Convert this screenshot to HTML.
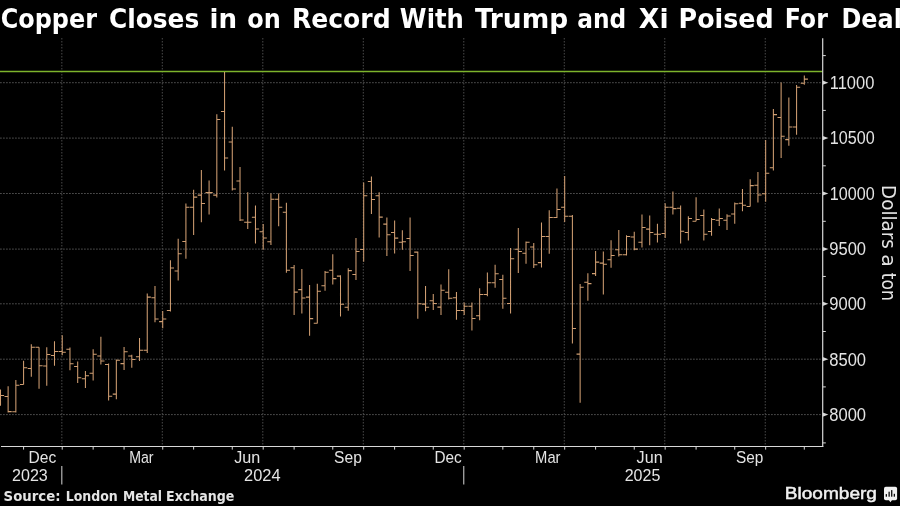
<!DOCTYPE html>
<html><head><meta charset="utf-8"><title>Copper Closes in on Record With Trump and Xi Poised For Deal</title>
<style>
html,body{margin:0;padding:0;background:#000;}
body{width:900px;height:506px;overflow:hidden;position:relative;}
svg{position:absolute;left:0;top:0;}
.ttl{font-family:"DejaVu Sans Condensed","DejaVu Sans",sans-serif;font-stretch:condensed;font-weight:bold;font-size:26.6px;fill:#fff;}
.ax{font-family:"Liberation Sans",Arial,sans-serif;font-size:16.8px;fill:#e4e4e4;}
.ay{font-family:"Liberation Sans",Arial,sans-serif;font-size:17.6px;fill:#e4e4e4;}
.yl{font-family:"DejaVu Sans Condensed","DejaVu Sans",sans-serif;font-stretch:condensed;font-size:19.1px;fill:#e4e4e4;}
.src{font-family:"DejaVu Sans Condensed","DejaVu Sans",sans-serif;font-stretch:condensed;font-weight:bold;font-size:13.4px;fill:#e4e4e4;}
.bb{font-family:"Liberation Sans",Arial,sans-serif;font-size:15.8px;fill:#f0f0f0;stroke:#f0f0f0;stroke-width:0.45px;}
</style></head>
<body>
<svg width="900" height="506" viewBox="0 0 900 506">
<rect width="900" height="506" fill="#000"/>
<text x="0.70" y="27.80" class="ttl" textLength="96.30" lengthAdjust="spacingAndGlyphs">Copper</text>
<text x="108.96" y="27.80" class="ttl" textLength="90.30" lengthAdjust="spacingAndGlyphs">Closes</text>
<text x="209.52" y="27.80" class="ttl" textLength="27.53" lengthAdjust="spacingAndGlyphs">in</text>
<text x="247.30" y="27.80" class="ttl" textLength="33.48" lengthAdjust="spacingAndGlyphs">on</text>
<text x="291.90" y="27.80" class="ttl" textLength="98.72" lengthAdjust="spacingAndGlyphs">Record</text>
<text x="399.89" y="27.80" class="ttl" textLength="63.92" lengthAdjust="spacingAndGlyphs">With</text>
<text x="475.00" y="27.80" class="ttl" textLength="93.15" lengthAdjust="spacingAndGlyphs">Trump</text>
<text x="577.33" y="27.80" class="ttl" textLength="48.95" lengthAdjust="spacingAndGlyphs">and</text>
<text x="638.89" y="27.80" class="ttl" textLength="29.66" lengthAdjust="spacingAndGlyphs">Xi</text>
<text x="678.58" y="27.80" class="ttl" textLength="95.00" lengthAdjust="spacingAndGlyphs">Poised</text>
<text x="784.72" y="27.80" class="ttl" textLength="43.10" lengthAdjust="spacingAndGlyphs">For</text>
<text x="841.50" y="27.80" class="ttl" textLength="60.33" lengthAdjust="spacingAndGlyphs">Deal</text>
<line x1="0" y1="414.60" x2="822" y2="414.60" stroke="#4a4a4a" stroke-width="1" stroke-dasharray="1.8 1.2"/>
<line x1="0" y1="359.20" x2="822" y2="359.20" stroke="#4a4a4a" stroke-width="1" stroke-dasharray="1.8 1.2"/>
<line x1="0" y1="303.80" x2="822" y2="303.80" stroke="#4a4a4a" stroke-width="1" stroke-dasharray="1.8 1.2"/>
<line x1="0" y1="249.10" x2="822" y2="249.10" stroke="#4a4a4a" stroke-width="1" stroke-dasharray="1.8 1.2"/>
<line x1="0" y1="193.50" x2="822" y2="193.50" stroke="#4a4a4a" stroke-width="1" stroke-dasharray="1.8 1.2"/>
<line x1="0" y1="138.10" x2="822" y2="138.10" stroke="#4a4a4a" stroke-width="1" stroke-dasharray="1.8 1.2"/>
<line x1="0" y1="82.70" x2="822" y2="82.70" stroke="#4a4a4a" stroke-width="1" stroke-dasharray="1.8 1.2"/>
<line x1="61.83" y1="38" x2="61.83" y2="446" stroke="#4a4a4a" stroke-width="1" stroke-dasharray="1.5 1.5"/>
<line x1="162.31" y1="38" x2="162.31" y2="446" stroke="#4a4a4a" stroke-width="1" stroke-dasharray="1.5 1.5"/>
<line x1="262.81" y1="38" x2="262.81" y2="446" stroke="#4a4a4a" stroke-width="1" stroke-dasharray="1.5 1.5"/>
<line x1="363.30" y1="38" x2="363.30" y2="446" stroke="#4a4a4a" stroke-width="1" stroke-dasharray="1.5 1.5"/>
<line x1="463.79" y1="38" x2="463.79" y2="446" stroke="#4a4a4a" stroke-width="1" stroke-dasharray="1.5 1.5"/>
<line x1="564.28" y1="38" x2="564.28" y2="446" stroke="#4a4a4a" stroke-width="1" stroke-dasharray="1.5 1.5"/>
<line x1="664.77" y1="38" x2="664.77" y2="446" stroke="#4a4a4a" stroke-width="1" stroke-dasharray="1.5 1.5"/>
<line x1="765.26" y1="38" x2="765.26" y2="446" stroke="#4a4a4a" stroke-width="1" stroke-dasharray="1.5 1.5"/>
<line x1="0" y1="71.55" x2="822.7" y2="71.55" stroke="#7db42c" stroke-width="1.5"/>
<path d="M0.50 389.40V405.80M-3.10 392.00H0.50M0.50 395.50H4.10M8.12 386.20V412.40M4.52 396.40H8.12M8.12 411.60H11.71M15.85 380.00V412.40M12.25 411.70H15.85M15.85 385.20H19.45M23.58 360.80V384.50M19.98 384.40H23.58M23.58 367.70H27.18M31.31 344.30V376.70M27.71 368.40H31.31M31.31 347.20H34.91M39.04 347.20V388.80M35.44 347.20H39.04M39.04 365.70H42.64M46.77 347.20V385.70M43.16 366.00H46.77M46.77 354.50H50.37M54.49 341.30V365.70M50.89 355.50H54.49M54.49 351.40H58.09M62.23 335.30V355.20M58.62 351.40H62.23M62.23 352.30H65.83M69.96 347.50V370.30M66.36 349.30H69.96M69.96 363.80H73.56M77.69 361.50V382.90M74.09 366.40H77.69M77.69 377.80H81.29M85.42 371.10V387.90M81.82 378.70H85.42M85.42 375.70H89.02M93.15 349.30V380.40M89.55 373.30H93.15M93.15 354.30H96.75M100.88 336.70V364.40M97.28 356.00H100.88M100.88 361.00H104.48M108.61 363.60V400.50M105.01 364.40H108.61M108.61 396.30H112.20M116.34 359.40V399.20M112.74 394.10H116.34M116.34 360.20H119.94M124.07 347.10V369.90M120.47 363.60H124.07M124.07 351.80H127.67M131.79 354.80V367.80M128.19 356.00H131.79M131.79 359.40H135.39M139.53 338.00V361.00M135.93 356.80H139.53M139.53 350.20H143.12M147.25 293.60V353.10M143.66 350.30H147.25M147.25 297.10H150.85M154.99 286.00V322.20M151.39 297.80H154.99M154.99 318.90H158.59M162.72 311.10V328.30M159.12 321.60H162.72M162.72 318.90H166.31M170.44 260.30V311.50M166.84 310.40H170.44M170.44 268.00H174.04M178.18 238.70V280.50M174.58 271.00H178.18M178.18 253.70H181.78M185.91 203.50V258.80M182.31 241.40H185.91M185.91 207.20H189.50M193.63 189.80V235.00M190.03 207.20H193.63M193.63 197.10H197.23M201.37 170.10V222.30M197.77 195.10H201.37M201.37 203.50H204.97M209.09 180.60V214.40M205.50 192.60H209.09M209.09 192.60H212.69M216.82 114.20V197.60M213.22 195.10H216.82M216.82 119.40H220.42M224.56 72.00V170.50M220.96 111.50H224.56M224.56 157.90H228.16M232.28 126.80V190.60M228.69 141.90H232.28M232.28 189.00H235.88M240.02 167.10V221.10M236.42 180.90H240.02M240.02 220.00H243.62M247.75 192.30V229.00M244.15 222.30H247.75M247.75 222.30H251.34M255.47 205.50V243.50M251.88 217.30H255.47M255.47 229.00H259.07M263.20 224.00V249.70M259.60 231.70H263.20M263.20 237.90H266.81M270.94 193.40V245.10M267.33 241.80H270.94M270.94 199.30H274.54M278.67 193.40V226.20M275.06 199.30H278.67M278.67 207.20H282.27M286.39 202.70V272.80M282.79 212.30H286.39M286.39 270.20H290.00M294.12 264.90V315.10M290.52 267.70H294.12M294.12 292.10H297.73M301.86 268.90V313.40M298.25 289.60H301.86M301.86 298.00H305.46M309.59 285.00V335.80M305.99 297.10H309.59M309.59 318.60H313.19M317.31 283.70V323.40M313.71 323.20H317.31M317.31 291.20H320.92M325.05 271.10V290.70M321.44 285.70H325.05M325.05 272.30H328.65M332.78 254.30V284.50M329.18 270.20H332.78M332.78 278.60H336.38M340.50 275.30V316.40M336.90 276.10H340.50M340.50 304.20H344.11M348.24 268.20V310.70M344.63 307.20H348.24M348.24 270.60H351.84M355.97 238.10V280.00M352.37 274.40H355.97M355.97 251.40H359.57M363.69 182.60V261.80M360.09 249.40H363.69M363.69 195.70H367.30M371.43 176.40V214.00M367.82 181.50H371.43M371.43 199.40H375.03M379.16 192.20V237.60M375.56 195.70H379.16M379.16 217.10H382.76M386.88 217.40V256.00M383.28 224.10H386.88M386.88 234.70H390.49M394.62 220.40V253.40M391.01 232.50H394.62M394.62 238.10H398.22M402.35 230.20V249.70M398.75 242.30H402.35M402.35 241.70H405.95M410.07 217.40V271.10M406.47 238.40H410.07M410.07 255.50H413.68M417.81 251.40V318.70M414.20 252.10H417.81M417.81 303.80H421.41M425.54 285.90V311.30M421.94 304.10H425.54M425.54 307.30H429.14M433.26 294.00V310.10M429.66 300.70H433.26M433.26 303.40H436.87M441.00 284.40V315.10M437.39 307.10H441.00M441.00 290.30H444.60M448.73 269.30V299.50M445.12 292.30H448.73M448.73 298.30H452.33M456.46 292.00V319.70M452.86 297.80H456.46M456.46 310.40H460.06M464.19 302.40V315.10M460.58 310.40H464.19M464.19 306.20H467.79M471.92 302.40V330.60M468.31 306.20H471.92M471.92 318.50H475.52M479.65 288.30V320.20M476.05 315.80H479.65M479.65 294.50H483.25M487.38 272.60V296.20M483.77 294.50H487.38M487.38 282.70H490.98M495.11 264.70V287.80M491.50 282.70H495.11M495.11 273.80H498.71M502.84 274.80V308.80M499.24 279.40H502.84M502.84 298.30H506.44M510.56 248.10V313.50M506.96 303.40H510.56M510.56 258.70H514.16M518.30 228.00V273.10M514.70 249.30H518.30M518.30 251.50H521.90M526.02 241.40V263.70M522.42 253.20H526.02M526.02 242.20H529.62M533.75 243.10V268.10M530.15 246.90H533.75M533.75 264.70H537.36M541.49 222.40V267.60M537.88 262.60H541.49M541.49 236.40H545.09M549.22 210.30V253.70M545.62 236.40H549.22M549.22 217.40H552.82M556.95 188.50V217.90M553.35 217.40H556.95M556.95 209.50H560.55M564.68 175.90V222.10M561.08 207.30H564.68M564.68 216.20H568.28M572.40 215.00V343.50M568.80 216.20H572.40M572.40 328.40H576.00M580.13 284.00V402.70M576.53 354.10H580.13M580.13 287.30H583.74M587.87 273.20V300.80M584.26 282.30H587.87M587.87 283.60H591.47M595.60 251.00V276.10M592.00 273.60H595.60M595.60 262.10H599.20M603.33 251.50V294.60M599.73 263.10H603.33M603.33 264.30H606.93M611.06 240.20V267.70M607.46 259.80H611.06M611.06 255.40H614.66M618.79 230.10V256.40M615.19 249.70H618.79M618.79 254.70H622.39M626.51 235.20V255.40M622.91 254.70H626.51M626.51 236.40H630.12M634.25 231.80V250.30M630.64 236.90H634.25M634.25 249.10H637.85M641.98 214.50V247.60M638.38 242.20H641.98M641.98 227.50H645.58M649.71 215.40V245.30M646.11 229.10H649.71M649.71 232.50H653.31M657.44 223.80V242.60M653.84 234.20H657.44M657.44 234.20H661.04M665.17 203.30V238.00M661.57 233.50H665.17M665.17 207.30H668.77M672.89 191.50V214.50M669.29 207.30H672.89M672.89 208.60H676.50M680.62 205.60V243.60M677.02 208.30H680.62M680.62 231.30H684.23M688.36 216.20V240.60M684.75 232.50H688.36M688.36 218.40H691.96M696.09 197.30V221.20M692.49 221.20H696.09M696.09 219.40H699.69M703.82 209.50V240.60M700.22 215.40H703.82M703.82 234.20H707.42M711.55 218.00V235.80M707.95 231.40H711.55M711.55 219.50H715.15M719.27 208.50V225.90M715.67 220.30H719.27M719.27 218.40H722.88M727.00 214.30V230.10M723.40 220.30H727.00M727.00 215.90H730.61M734.74 202.60V223.80M731.13 214.00H734.74M734.74 203.70H738.34M742.47 189.00V211.20M738.87 203.30H742.47M742.47 205.30H746.07M750.20 179.20V206.40M746.60 206.40H750.20M750.20 185.60H753.80M757.93 172.10V202.60M754.33 185.20H757.93M757.93 195.00H761.53M765.66 140.00V201.70M762.06 193.80H765.66M765.66 173.30H769.26M773.38 109.10V170.40M769.78 167.80H773.38M773.38 114.60H776.99M781.12 82.40V158.00M777.51 117.40H781.12M781.12 136.30H784.72M788.85 97.50V145.70M785.25 139.60H788.85M788.85 127.00H792.45M796.58 85.00V134.80M792.98 127.00H796.58M796.58 87.20H800.18M804.31 75.60V84.80M800.71 83.30H804.31M804.31 79.10H807.91" stroke="#d09e72" stroke-width="1.05" fill="none"/>
<line x1="1" y1="446.5" x2="823.3" y2="446.5" stroke="#d8d8d8" stroke-width="1.15"/>
<line x1="23.58" y1="446.5" x2="23.58" y2="449.6" stroke="#d8d8d8" stroke-width="1"/>
<line x1="62.23" y1="446.5" x2="62.23" y2="449.6" stroke="#d8d8d8" stroke-width="1"/>
<line x1="93.15" y1="446.5" x2="93.15" y2="449.6" stroke="#d8d8d8" stroke-width="1"/>
<line x1="124.07" y1="446.5" x2="124.07" y2="449.6" stroke="#d8d8d8" stroke-width="1"/>
<line x1="162.72" y1="446.5" x2="162.72" y2="449.6" stroke="#d8d8d8" stroke-width="1"/>
<line x1="193.63" y1="446.5" x2="193.63" y2="449.6" stroke="#d8d8d8" stroke-width="1"/>
<line x1="232.28" y1="446.5" x2="232.28" y2="449.6" stroke="#d8d8d8" stroke-width="1"/>
<line x1="263.20" y1="446.5" x2="263.20" y2="449.6" stroke="#d8d8d8" stroke-width="1"/>
<line x1="294.12" y1="446.5" x2="294.12" y2="449.6" stroke="#d8d8d8" stroke-width="1"/>
<line x1="332.78" y1="446.5" x2="332.78" y2="449.6" stroke="#d8d8d8" stroke-width="1"/>
<line x1="363.69" y1="446.5" x2="363.69" y2="449.6" stroke="#d8d8d8" stroke-width="1"/>
<line x1="394.62" y1="446.5" x2="394.62" y2="449.6" stroke="#d8d8d8" stroke-width="1"/>
<line x1="433.26" y1="446.5" x2="433.26" y2="449.6" stroke="#d8d8d8" stroke-width="1"/>
<line x1="464.19" y1="446.5" x2="464.19" y2="449.6" stroke="#d8d8d8" stroke-width="1"/>
<line x1="502.84" y1="446.5" x2="502.84" y2="449.6" stroke="#d8d8d8" stroke-width="1"/>
<line x1="533.75" y1="446.5" x2="533.75" y2="449.6" stroke="#d8d8d8" stroke-width="1"/>
<line x1="564.68" y1="446.5" x2="564.68" y2="449.6" stroke="#d8d8d8" stroke-width="1"/>
<line x1="595.60" y1="446.5" x2="595.60" y2="449.6" stroke="#d8d8d8" stroke-width="1"/>
<line x1="634.25" y1="446.5" x2="634.25" y2="449.6" stroke="#d8d8d8" stroke-width="1"/>
<line x1="665.17" y1="446.5" x2="665.17" y2="449.6" stroke="#d8d8d8" stroke-width="1"/>
<line x1="696.09" y1="446.5" x2="696.09" y2="449.6" stroke="#d8d8d8" stroke-width="1"/>
<line x1="734.74" y1="446.5" x2="734.74" y2="449.6" stroke="#d8d8d8" stroke-width="1"/>
<line x1="765.66" y1="446.5" x2="765.66" y2="449.6" stroke="#d8d8d8" stroke-width="1"/>
<line x1="804.31" y1="446.5" x2="804.31" y2="449.6" stroke="#d8d8d8" stroke-width="1"/>
<line x1="61.83" y1="466" x2="61.83" y2="484.5" stroke="#d8d8d8" stroke-width="1"/>
<line x1="463.79" y1="466" x2="463.79" y2="484.5" stroke="#d8d8d8" stroke-width="1"/>
<text x="28.57" y="462.70" class="ax" textLength="27.71" lengthAdjust="spacingAndGlyphs">Dec</text>
<text x="129.16" y="462.70" class="ax" textLength="24.36" lengthAdjust="spacingAndGlyphs">Mar</text>
<text x="234.20" y="462.70" class="ax" textLength="26.02" lengthAdjust="spacingAndGlyphs">Jun</text>
<text x="334.07" y="462.70" class="ax" textLength="27.73" lengthAdjust="spacingAndGlyphs">Sep</text>
<text x="434.49" y="462.70" class="ax" textLength="27.29" lengthAdjust="spacingAndGlyphs">Dec</text>
<text x="535.12" y="462.70" class="ax" textLength="25.40" lengthAdjust="spacingAndGlyphs">Mar</text>
<text x="636.60" y="462.70" class="ax" textLength="26.02" lengthAdjust="spacingAndGlyphs">Jun</text>
<text x="736.09" y="462.70" class="ax" textLength="27.30" lengthAdjust="spacingAndGlyphs">Sep</text>
<text x="12.04" y="480.80" class="ax" textLength="35.79" lengthAdjust="spacingAndGlyphs">2023</text>
<text x="244.02" y="480.80" class="ax" textLength="36.51" lengthAdjust="spacingAndGlyphs">2024</text>
<text x="624.64" y="480.80" class="ax" textLength="35.68" lengthAdjust="spacingAndGlyphs">2025</text>
<line x1="822.7" y1="38.3" x2="822.7" y2="447.1" stroke="#d8d8d8" stroke-width="1.2"/>
<path d="M822.7 412.50L828.4 414.60L822.7 416.70Z" fill="#d8d8d8"/>
<text x="829.26" y="420.90" class="ay" textLength="36.81" lengthAdjust="spacingAndGlyphs">8000</text>
<path d="M822.7 357.10L828.4 359.20L822.7 361.30Z" fill="#d8d8d8"/>
<text x="829.26" y="365.50" class="ay" textLength="36.81" lengthAdjust="spacingAndGlyphs">8500</text>
<path d="M822.7 301.70L828.4 303.80L822.7 305.90Z" fill="#d8d8d8"/>
<text x="829.26" y="310.10" class="ay" textLength="36.81" lengthAdjust="spacingAndGlyphs">9000</text>
<path d="M822.7 247.00L828.4 249.10L822.7 251.20Z" fill="#d8d8d8"/>
<text x="829.26" y="255.40" class="ay" textLength="36.81" lengthAdjust="spacingAndGlyphs">9500</text>
<path d="M822.7 191.40L828.4 193.50L822.7 195.60Z" fill="#d8d8d8"/>
<text x="829.78" y="199.80" class="ay" textLength="44.88" lengthAdjust="spacingAndGlyphs">10000</text>
<path d="M822.7 136.00L828.4 138.10L822.7 140.20Z" fill="#d8d8d8"/>
<text x="829.78" y="144.40" class="ay" textLength="44.88" lengthAdjust="spacingAndGlyphs">10500</text>
<path d="M822.7 80.60L828.4 82.70L822.7 84.80Z" fill="#d8d8d8"/>
<text x="829.76" y="89.00" class="ay" textLength="44.62" lengthAdjust="spacingAndGlyphs">11000</text>
<line x1="822.7" y1="442.90" x2="825.8" y2="442.90" stroke="#d8d8d8" stroke-width="1"/>
<line x1="822.7" y1="386.90" x2="825.8" y2="386.90" stroke="#d8d8d8" stroke-width="1"/>
<line x1="822.7" y1="331.50" x2="825.8" y2="331.50" stroke="#d8d8d8" stroke-width="1"/>
<line x1="822.7" y1="276.45" x2="825.8" y2="276.45" stroke="#d8d8d8" stroke-width="1"/>
<line x1="822.7" y1="221.30" x2="825.8" y2="221.30" stroke="#d8d8d8" stroke-width="1"/>
<line x1="822.7" y1="165.80" x2="825.8" y2="165.80" stroke="#d8d8d8" stroke-width="1"/>
<line x1="822.7" y1="110.40" x2="825.8" y2="110.40" stroke="#d8d8d8" stroke-width="1"/>
<line x1="822.7" y1="55.60" x2="825.8" y2="55.60" stroke="#d8d8d8" stroke-width="1"/>
<text transform="translate(882.1,0) rotate(90)" x="185.07" y="0" class="yl" textLength="63.82" lengthAdjust="spacingAndGlyphs">Dollars</text>
<text transform="translate(882.1,0) rotate(90)" x="254.20" y="0" class="yl" textLength="12.64" lengthAdjust="spacingAndGlyphs">a</text>
<text transform="translate(882.1,0) rotate(90)" x="272.80" y="0" class="yl" textLength="28.14" lengthAdjust="spacingAndGlyphs">ton</text>
<text x="3.60" y="500.70" class="src" textLength="56.88" lengthAdjust="spacingAndGlyphs">Source:</text>
<text x="65.66" y="500.70" class="src" textLength="52.10" lengthAdjust="spacingAndGlyphs">London</text>
<text x="122.98" y="500.70" class="src" textLength="39.04" lengthAdjust="spacingAndGlyphs">Metal</text>
<text x="166.05" y="500.70" class="src" textLength="68.39" lengthAdjust="spacingAndGlyphs">Exchange</text>
<text x="784.79" y="498.70" class="bb" textLength="92.20" lengthAdjust="spacingAndGlyphs">Bloomberg</text>
<g>
<rect x="884" y="486.7" width="13.1" height="13.5" rx="1.8" fill="#f0f0f0"/>
<path d="M888.9 500L890.45 502.3L892 500Z" fill="#f0f0f0"/>
<rect x="885.7" y="494.1" width="1.25" height="2.6" fill="#000"/>
<rect x="888.5" y="491.7" width="1.25" height="5" fill="#000"/>
<rect x="891.1" y="490.1" width="1.25" height="6.6" fill="#000"/>
<rect x="893.7" y="493.8" width="1.25" height="2.9" fill="#000"/>
</g>
</svg>
</body></html>
